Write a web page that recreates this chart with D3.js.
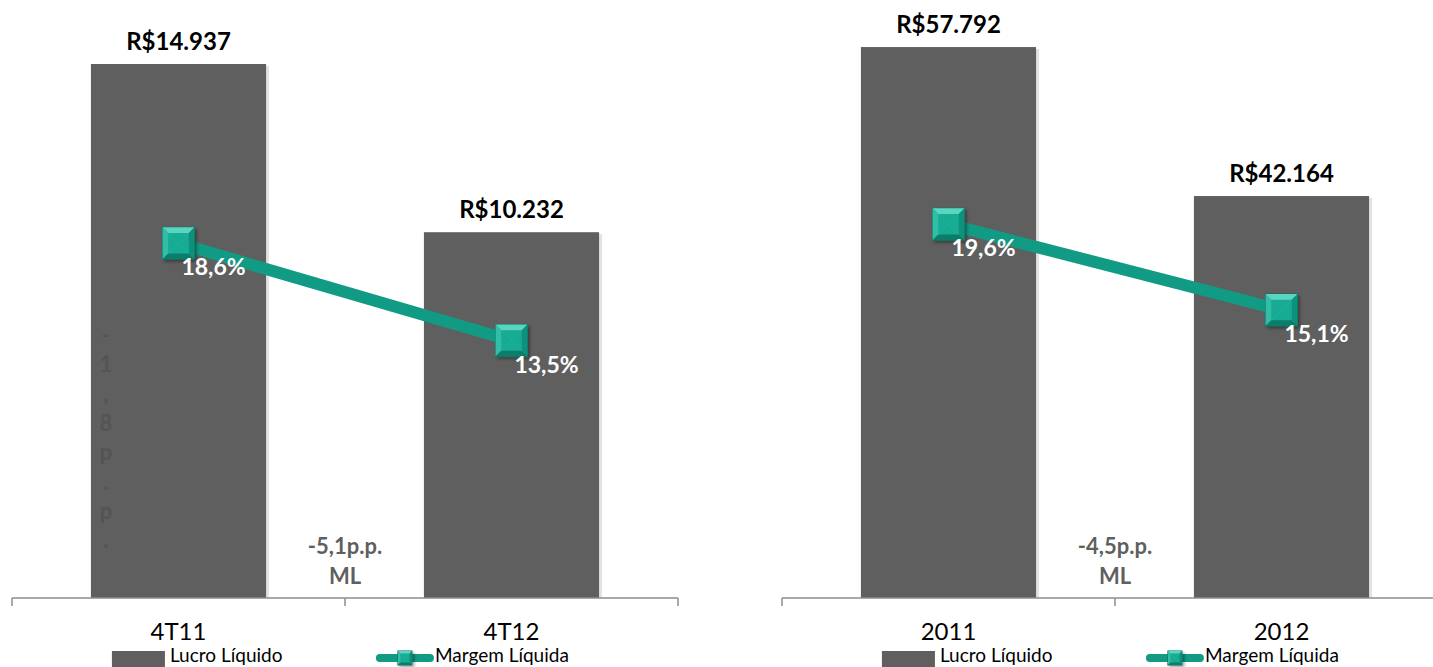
<!DOCTYPE html>
<html>
<head>
<meta charset="utf-8">
<script src="https://cdnjs.cloudflare.com/ajax/libs/d3/7.8.5/d3.min.js"></script>
<style>
    body { margin: 0; background: #fff; }
    svg text { font-family: Lato, "Open Sans", sans-serif; }
</style>
</head>
<body>
<div id="graph"></div>
<script>
/*************************************** DATA *********************************************/

var quarters = ["4T11", "4T12"];
var quarterLucro = [14937, 10232];
var quarterLucroLabels = ["R$14.937", "R$10.232"];
var quarterMargem = [18.6, 13.5];
var quarterMargemLabels = ["18,6%", "13,5%"];

var years = ["2011", "2012"];
var yearLucro = [57792, 42164];
var yearLucroLabels = ["R$57.792", "R$42.164"];
var yearMargem = [19.6, 15.1];
var yearMargemLabels = ["19,6%", "15,1%"];

var legendNames = ["Lucro Líquido", "Margem Líquida"];

/*************************************** GRAPH *********************************************/

var width = 1433,
    height = 667,
    baseY = 598,
    topY = 26;

var barColor = "#5f5f5f",
    lineColor = "#119a84";

var svg = d3.select("#graph").append("svg")
    .attr("width", width)
    .attr("height", height);

var defs = svg.append("defs");
var shadow = defs.append("filter").attr("id", "shadow")
    .attr("x", "-20%").attr("y", "-20%").attr("width", "150%").attr("height", "150%");
shadow.append("feDropShadow")
    .attr("dx", 2).attr("dy", 2).attr("stdDeviation", 1.5)
    .attr("flood-color", "#000").attr("flood-opacity", 0.35);

// shared secondary axis for the margin line
var yPct = d3.scaleLinear().domain([0, 30]).range([baseY, topY]);

function marker(g, cx, cy, s) {
    var h = s / 2, i = s * 0.18;
    var m = g.append("g")
        .attr("transform", "translate(" + cx + "," + cy + ")")
        .attr("filter", "url(#shadow)");
    m.append("rect")
        .attr("x", -h).attr("y", -h).attr("width", s).attr("height", s)
        .attr("fill", "#17ab92").attr("stroke", "#0a6e5e").attr("stroke-width", 1);
    // bevel faces
    var faces = [
        { p: [[-h, -h], [h, -h], [h - i, -h + i], [-h + i, -h + i]], c: "#5ad6c0" },
        { p: [[-h, -h], [-h + i, -h + i], [-h + i, h - i], [-h, h]], c: "#30bea6" },
        { p: [[h, -h], [h, h], [h - i, h - i], [h - i, -h + i]], c: "#0f917b" },
        { p: [[-h, h], [h, h], [h - i, h - i], [-h + i, h - i]], c: "#0b7d6a" }
    ];
    faces.forEach(function(f) {
        m.append("path")
            .attr("d", "M" + f.p.join("L") + "Z")
            .attr("fill", f.c);
    });
    m.append("path")
        .attr("d", "M" + (-h + i) + "," + (-h + i) + "L" + (h - i) + "," + (h - i) +
            "M" + (h - i) + "," + (-h + i) + "L" + (-h + i) + "," + (h - i))
        .attr("stroke", "#24b9a0").attr("stroke-width", 1).attr("opacity", 0.6);
}

function drawPanel(x0, x1, cats, lucro, lucroLabels, margem, margemLabels, yMax, note, vertNote) {
    var g = svg.append("g");

    var x = d3.scaleBand()
        .domain(cats)
        .range([x0, x1])
        .paddingInner(0.474)
        .paddingOuter(0.237);

    var y = d3.scaleLinear().domain([0, yMax]).range([baseY, topY]);

    var rows = cats.map(function(c, i) {
        return { cat: c, v: lucro[i], vl: lucroLabels[i], m: margem[i], ml: margemLabels[i] };
    });

    // bars with a soft right shadow
    g.selectAll(".bar-shadow")
        .data(rows)
        .enter().append("rect")
        .attr("x", function(d) { return x(d.cat) + x.bandwidth(); })
        .attr("y", function(d) { return y(d.v) + 2; })
        .attr("width", 3)
        .attr("height", function(d) { return baseY - y(d.v) - 2; })
        .attr("fill", "#e2e2e2");

    g.selectAll(".bar")
        .data(rows)
        .enter().append("rect")
        .attr("class", "bar")
        .attr("x", function(d) { return x(d.cat); })
        .attr("y", function(d) { return y(d.v); })
        .attr("width", x.bandwidth())
        .attr("height", function(d) { return baseY - y(d.v); })
        .attr("fill", barColor);

    g.selectAll(".bar-label")
        .data(rows)
        .enter().append("text")
        .attr("x", function(d) { return x(d.cat) + x.bandwidth() / 2; })
        .attr("y", function(d) { return y(d.v) - 14; })
        .attr("text-anchor", "middle")
        .style("font-size", "24px")
        .style("font-weight", "bold")
        .attr("fill", "#000")
        .text(function(d) { return d.vl; });

    // x axis with ticks between categories
    var step = x.step();
    var axisX0 = x(cats[0]) - step * x.paddingInner() / 2;
    var tickXs = d3.range(cats.length + 1).map(function(i) { return axisX0 + i * step; });
    g.append("line")
        .attr("x1", axisX0).attr("x2", Math.min(axisX0 + step * cats.length, width))
        .attr("y1", baseY).attr("y2", baseY)
        .attr("stroke", "#8c8c8c").attr("stroke-width", 1.5);
    g.selectAll(".tick")
        .data(tickXs)
        .enter().append("line")
        .attr("x1", function(d) { return d; }).attr("x2", function(d) { return d; })
        .attr("y1", baseY).attr("y2", baseY + 8)
        .attr("stroke", "#8c8c8c").attr("stroke-width", 1.5);
    g.selectAll(".cat-label")
        .data(rows)
        .enter().append("text")
        .attr("x", function(d) { return x(d.cat) + x.bandwidth() / 2; })
        .attr("y", 640)
        .attr("text-anchor", "middle")
        .style("font-size", "24px")
        .attr("fill", "#000")
        .text(function(d) { return d.cat; });

    // margin line
    var line = d3.line()
        .x(function(d) { return x(d.cat) + x.bandwidth() / 2; })
        .y(function(d) { return yPct(d.m); });
    g.append("path")
        .datum(rows)
        .attr("d", line)
        .attr("fill", "none")
        .attr("stroke", lineColor)
        .attr("stroke-width", 12);

    rows.forEach(function(d) {
        marker(g, x(d.cat) + x.bandwidth() / 2, yPct(d.m), 32);
    });

    g.selectAll(".pct-label")
        .data(rows)
        .enter().append("text")
        .attr("x", function(d) { return x(d.cat) + x.bandwidth() / 2 + 35; })
        .attr("y", function(d) { return yPct(d.m) + 32; })
        .attr("text-anchor", "middle")
        .style("font-size", "23px")
        .style("font-weight", "bold")
        .attr("fill", "#fff")
        .text(function(d) { return d.ml; });

    // p.p. annotation between the bars
    var midX = x(cats[0]) + x.bandwidth() + (step - x.bandwidth()) / 2;
    g.append("text")
        .attr("x", midX).attr("y", 554)
        .attr("text-anchor", "middle")
        .style("font-size", "22px").style("font-weight", "bold")
        .attr("fill", "#5f5f5f")
        .text(note);
    g.append("text")
        .attr("x", midX).attr("y", 584)
        .attr("text-anchor", "middle")
        .style("font-size", "22px").style("font-weight", "bold")
        .attr("fill", "#5f5f5f")
        .text("ML");

    // stacked (one char per line) annotation hidden inside the first bar
    if (vertNote) {
        var vt = g.append("text")
            .attr("text-anchor", "middle")
            .style("font-size", "22px").style("font-weight", "bold")
            .attr("fill", "#545454");
        vertNote.split("").forEach(function(ch, i) {
            vt.append("tspan")
                .attr("x", x(cats[0]) + 15)
                .attr("y", 343 + i * 29.3)
                .text(ch);
        });
    }

    // legend
    var lx = x(cats[0]) + 21;
    g.append("rect")
        .attr("x", lx).attr("y", 651).attr("width", 53).attr("height", 16)
        .attr("fill", barColor);
    g.append("text")
        .attr("x", lx + 58).attr("y", 662)
        .style("font-size", "19px")
        .attr("fill", "#000")
        .text(legendNames[0]);

    var mx = x(cats[1]) - 48;
    g.append("line")
        .attr("x1", mx + 4).attr("x2", mx + 54)
        .attr("y1", 658).attr("y2", 658)
        .attr("stroke", lineColor).attr("stroke-width", 8)
        .attr("stroke-linecap", "round");
    marker(g, mx + 29, 658, 14);
    g.append("text")
        .attr("x", mx + 59).attr("y", 662)
        .style("font-size", "19px")
        .attr("fill", "#000")
        .text(legendNames[1]);
}

drawPanel(12, 678, quarters, quarterLucro, quarterLucroLabels, quarterMargem, quarterMargemLabels,
    16000, "-5,1p.p.", "-1,8p.p.");
drawPanel(782, 1448, years, yearLucro, yearLucroLabels, yearMargem, yearMargemLabels,
    60000, "-4,5p.p.", null);
</script>
</body>
</html>
